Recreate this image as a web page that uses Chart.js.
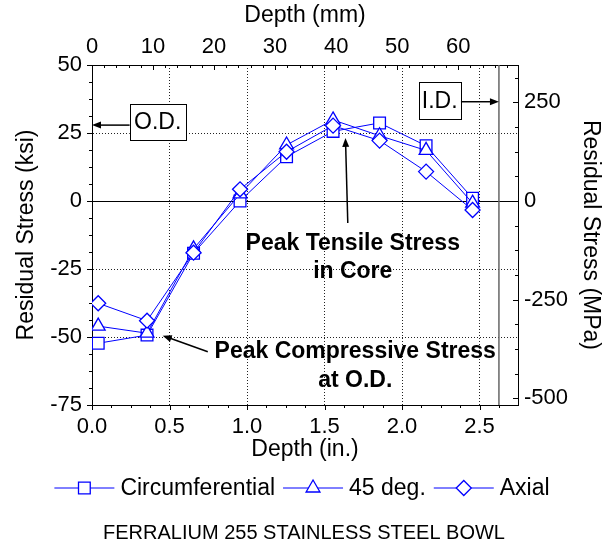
<!DOCTYPE html>
<html>
<head>
<meta charset="utf-8">
<script src="https://cdn.jsdelivr.net/npm/chart.js"></script>
<style>
  body { margin: 0; background: #fff; }
  canvas { display: block; }
</style>
</head>
<body>
<canvas id="stressChart" width="616" height="546"></canvas>
<script>
const FONT = '"Liberation Sans", Arial, sans-serif';
const KSI_TO_MPA = 6.895;
const MM_PER_IN = 25.4;

// depth of each measurement (in.)
const depthIn = [0.04, 0.355, 0.655, 0.955, 1.255, 1.555, 1.855, 2.155, 2.455];
// residual stress (ksi)
const circumferential = [-52.3, -49.3, -19.2, 0.0, 16.3, 25.6, 28.7, 20.3, 1.0];
const deg45 = [-46.0, -48.6, -17.6, 2.6, 20.6, 29.8, 24.0, 18.6, -0.8];
const axial = [-37.6, -44.0, -19.0, 4.3, 18.1, 27.7, 22.2, 10.8, -3.3];

const seriesNames = ['Circumferential', '45 deg.', 'Axial'];
const xTicksIn = [0, 0.5, 1.0, 1.5, 2.0, 2.5];
const xTicksMm = [0, 10, 20, 30, 40, 50, 60];
const yTicksKsi = [-75, -50, -25, 0, 25, 50];
const yTicksMpa = [-500, -250, 0, 250];

const xMaxIn = 2.748;
const yMinKsi = -75, yMaxKsi = 50;
const idDepthIn = 2.625;   // bore (I.D.) position

const pointStyles = [
  { pointStyle: 'rect', radius: 8.3 },
  { pointStyle: 'triangle', radius: 8 },
  { pointStyle: 'rectRot', radius: 7.5 }
];

const BLUE = '#0000ff';
const GRID = '#222';

function toPoints(ys) {
  return ys.map((v, i) => ({ x: depthIn[i], y: v }));
}

function line(ctx, x1, y1, x2, y2) {
  ctx.beginPath();
  ctx.moveTo(x1, y1);
  ctx.lineTo(x2, y2);
  ctx.stroke();
}

function arrow(ctx, x1, y1, x2, y2) {
  const ang = Math.atan2(y2 - y1, x2 - x1);
  const len = 9, half = 3.5;
  ctx.lineWidth = 1.5;
  line(ctx, x1, y1, x2 - Math.cos(ang) * len * 0.8, y2 - Math.sin(ang) * len * 0.8);
  ctx.beginPath();
  ctx.moveTo(x2, y2);
  ctx.lineTo(x2 - Math.cos(ang) * len - Math.sin(ang) * half, y2 - Math.sin(ang) * len + Math.cos(ang) * half);
  ctx.lineTo(x2 - Math.cos(ang) * len + Math.sin(ang) * half, y2 - Math.sin(ang) * len - Math.cos(ang) * half);
  ctx.closePath();
  ctx.fill();
}

// same shapes chart.js uses for its points
function marker(ctx, style, r, x, y) {
  ctx.beginPath();
  if (style === 'rect') {
    const s = Math.SQRT1_2 * r;
    ctx.rect(x - s, y - s, 2 * s, 2 * s);
  } else if (style === 'triangle') {
    for (let k = 0; k < 3; k++) {
      const a = k * 2 * Math.PI / 3;
      const px = x + Math.sin(a) * r, py = y - Math.cos(a) * r;
      if (k === 0) ctx.moveTo(px, py); else ctx.lineTo(px, py);
    }
    ctx.closePath();
  } else {
    ctx.moveTo(x - r, y);
    ctx.lineTo(x, y - r);
    ctx.lineTo(x + r, y);
    ctx.lineTo(x, y + r);
    ctx.closePath();
  }
  ctx.fill();
  ctx.stroke();
}

function minorTicks(ctx, scale, from, to, step, majorStep, side, area) {
  for (let v = from; v <= to + 1e-6; v += step) {
    const major = Math.abs(v / majorStep - Math.round(v / majorStep)) < 1e-6;
    const len = major ? 5 : 3;
    const p = Math.round(scale.getPixelForValue(v)) + 0.5;
    if (side === 'left') line(ctx, area.left, p, area.left - len, p);
    if (side === 'right') line(ctx, area.right, p, area.right - len, p);
    if (side === 'bottom') line(ctx, p, area.bottom, p, area.bottom + len);
    if (side === 'top') line(ctx, p, area.top, p, area.top + len);
  }
}

function boxLabel(ctx, text, cx, cy, w, h) {
  ctx.fillStyle = '#fff';
  ctx.fillRect(cx - w / 2, cy - h / 2, w, h);
  ctx.strokeStyle = '#000';
  ctx.lineWidth = 1;
  ctx.strokeRect(Math.round(cx - w / 2) + 0.5, Math.round(cy - h / 2) + 0.5, w, h);
  ctx.fillStyle = '#000';
  ctx.font = '23px ' + FONT;
  ctx.textAlign = 'center';
  ctx.textBaseline = 'middle';
  ctx.fillText(text, cx, cy + 1);
}

const decorPlugin = {
  id: 'decor',
  beforeDatasetsDraw(chart) {
    const { ctx, chartArea: a, scales: { x, y } } = chart;
    ctx.save();
    // zero stress line
    ctx.strokeStyle = '#000';
    ctx.lineWidth = 1;
    const y0 = Math.round(y.getPixelForValue(0)) + 0.5;
    line(ctx, a.left, y0, a.right, y0);
    // I.D. line
    ctx.strokeStyle = '#666';
    ctx.lineWidth = 1.5;
    const xi = x.getPixelForValue(idDepthIn);
    line(ctx, xi, a.top, xi, a.bottom);
    ctx.restore();
  },
  afterDraw(chart) {
    const { ctx, chartArea: a, scales } = chart;
    const { x, y, x2, y2 } = scales;
    const px = v => x.getPixelForValue(v);
    const py = v => y.getPixelForValue(v);
    ctx.save();
    ctx.strokeStyle = '#000';
    ctx.fillStyle = '#000';
    ctx.lineWidth = 1;

    minorTicks(ctx, y, yMinKsi, yMaxKsi, 6.25, 25, 'left', a);
    minorTicks(ctx, x, 0, xMaxIn, 0.125, 0.5, 'bottom', a);
    minorTicks(ctx, x2, 0, xMaxIn * MM_PER_IN, 2, 10, 'top', a);
    minorTicks(ctx, y2, -500, yMaxKsi * KSI_TO_MPA, 62.5, 250, 'right', a);

    // O.D. / I.D. callouts
    arrow(ctx, px(0.244), py(27.9), px(0), py(27.9));
    arrow(ctx, px(2.379), py(36.5), px(idDepthIn), py(36.5));
    boxLabel(ctx, 'O.D.', px(0.424), py(29.0), 56, 36);
    boxLabel(ctx, 'I.D.', px(2.243), py(36.9), 42, 37);

    // peak arrows
    ctx.strokeStyle = '#000';
    ctx.fillStyle = '#000';
    arrow(ctx, px(1.650), py(-8.1), px(1.635), py(23.2));
    arrow(ctx, px(0.747), py(-55.4), px(0.456), py(-49.5));

    ctx.font = 'bold 23px ' + FONT;
    ctx.textAlign = 'center';
    ctx.textBaseline = 'alphabetic';
    ctx.fillText('Peak Tensile Stress', px(1.682), py(-18.0));
    ctx.fillText('in Core', px(1.682), py(-28.4));
    ctx.fillText('Peak Compressive Stress', px(1.698), py(-57.8));
    ctx.fillText('at O.D.', px(1.698), py(-68.5));

    // legend: line - marker - line, then name
    ctx.font = '23px ' + FONT;
    ctx.textBaseline = 'middle';
    ctx.textAlign = 'left';
    const seg = 60, gapText = 6, gapItem = 8;
    const widths = seriesNames.map(n => ctx.measureText(n).width);
    let total = widths.reduce((s, w) => s + seg + gapText + w, 0) + gapItem * (seriesNames.length - 1);
    let lx = 302 - total / 2;
    const ly = 488;
    seriesNames.forEach((name, i) => {
      ctx.strokeStyle = BLUE;
      ctx.lineWidth = 1;
      line(ctx, lx, ly, lx + seg, ly);
      ctx.fillStyle = '#fff';
      ctx.lineWidth = 1.3;
      marker(ctx, pointStyles[i].pointStyle, pointStyles[i].radius, lx + seg / 2, ly);
      ctx.fillStyle = '#000';
      ctx.fillText(name, lx + seg + gapText, ly + 1);
      lx += seg + gapText + widths[i] + gapItem;
    });

    ctx.font = '20px ' + FONT;
    ctx.textAlign = 'center';
    ctx.textBaseline = 'alphabetic';
    ctx.fillText('FERRALIUM 255 STAINLESS STEEL BOWL', 304, 539);
    ctx.restore();
  }
};

const tickFont = { family: FONT, size: 22 };
const titleFont = { family: FONT, size: 23 };

new Chart(document.getElementById('stressChart'), {
  type: 'line',
  data: {
    datasets: [circumferential, deg45, axial].map((vals, i) => ({
      label: seriesNames[i],
      data: toPoints(vals),
      borderColor: BLUE,
      borderWidth: 1,
      pointStyle: pointStyles[i].pointStyle,
      pointRadius: pointStyles[i].radius,
      pointBorderWidth: 1.3,
      pointBorderColor: BLUE,
      pointBackgroundColor: '#fff',
      tension: 0,
      order: 3 - i
    }))
  },
  options: {
    responsive: false,
    animation: false,
    devicePixelRatio: 1,
    layout: { padding: { left: 0, right: 0, top: 0, bottom: 83 } },
    plugins: { legend: { display: false }, tooltip: { enabled: false } },
    scales: {
      x: {
        type: 'linear', position: 'bottom', min: 0, max: xMaxIn,
        afterBuildTicks: s => { s.ticks = xTicksIn.map(v => ({ value: v })); },
        afterFit: s => { s.height = 58; },
        ticks: { font: tickFont, color: '#000', padding: 9, maxRotation: 0, callback: v => v.toFixed(1) },
        grid: { drawTicks: false, lineWidth: 1, color: c => (c.tick && c.tick.value === 0) ? 'rgba(0,0,0,0)' : GRID },
        border: { display: true, color: '#000', width: 1, dash: [1, 2] },
        title: { display: true, text: 'Depth (in.)', font: titleFont, color: '#000', padding: 0 }
      },
      x2: {
        type: 'linear', position: 'top', min: 0, max: xMaxIn * MM_PER_IN,
        afterBuildTicks: s => { s.ticks = xTicksMm.map(v => ({ value: v })); },
        afterFit: s => { s.height = 65; },
        ticks: { font: tickFont, color: '#000', padding: 5, maxRotation: 0 },
        grid: { display: false, drawTicks: false },
        border: { display: true, color: '#000', width: 1 },
        title: { display: true, text: 'Depth (mm)', font: titleFont, color: '#000', padding: { top: 2, bottom: 0 } }
      },
      y: {
        type: 'linear', position: 'left', min: yMinKsi, max: yMaxKsi,
        afterBuildTicks: s => { s.ticks = yTicksKsi.map(v => ({ value: v })); },
        afterFit: s => { s.width = 92; },
        ticks: { font: tickFont, color: '#000', padding: 10 },
        grid: { drawTicks: false, lineWidth: 1, color: c => (c.tick && [0, 50, -75].includes(c.tick.value)) ? 'rgba(0,0,0,0)' : GRID },
        border: { display: true, color: '#000', width: 1, dash: [1, 2] },
        title: { display: true, text: 'Residual Stress (ksi)', font: titleFont, color: '#000', padding: { top: 13, bottom: 0 } }
      },
      y2: {
        type: 'linear', position: 'right', min: yMinKsi * KSI_TO_MPA, max: yMaxKsi * KSI_TO_MPA,
        afterBuildTicks: s => { s.ticks = yTicksMpa.map(v => ({ value: v })); },
        afterFit: s => { s.width = 98; },
        ticks: { font: tickFont, color: '#000', padding: 6 },
        grid: { display: false, drawTicks: false },
        border: { display: true, color: '#000', width: 1 },
        title: { display: true, text: 'Residual Stress (MPa)', font: titleFont, color: '#000', padding: { top: 12, bottom: 0 } }
      }
    }
  },
  plugins: [decorPlugin]
});
</script>
</body>
</html>
